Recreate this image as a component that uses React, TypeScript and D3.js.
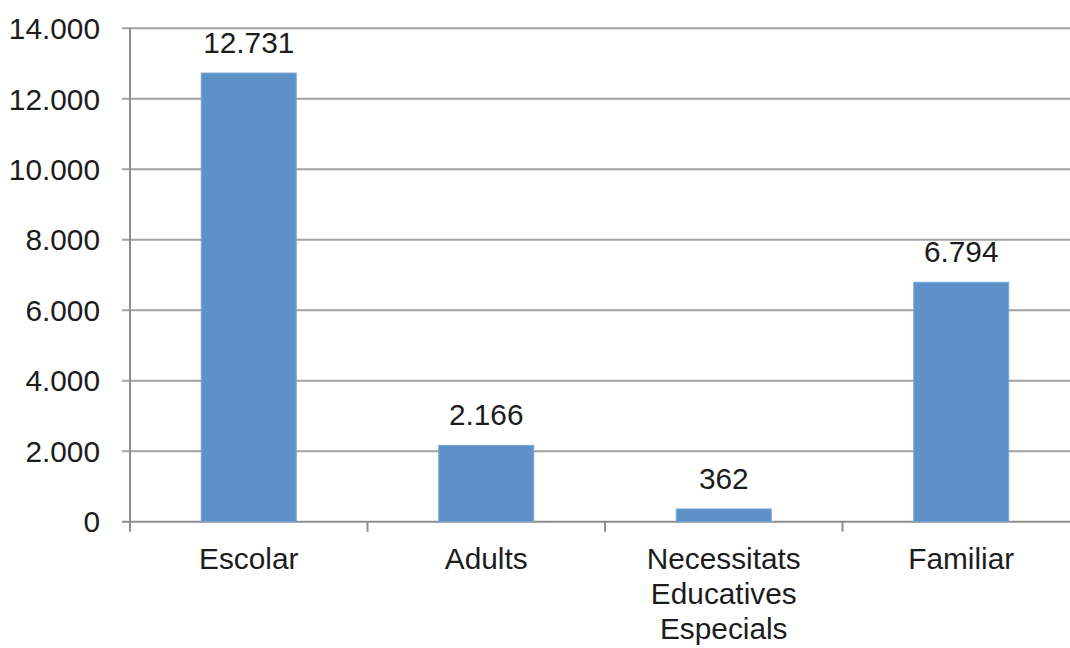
import React from "react";
import * as d3 from "d3";

const categories: string[][] = [
  ["Escolar"],
  ["Adults"],
  ["Necessitats", "Educatives", "Especials"],
  ["Familiar"],
];
const values: number[] = [12731, 2166, 362, 6794];
const valueLabels: string[] = ["12.731", "2.166", "362", "6.794"];
const yTicks: number[] = [0, 2000, 4000, 6000, 8000, 10000, 12000, 14000];
const yTickLabels: string[] = ["0", "2.000", "4.000", "6.000", "8.000", "10.000", "12.000", "14.000"];

const W = 1070;
const H = 648;
const left = 130;
const right = 1080;
const top = 28.3;
const bottom = 521.7;
const font = "'Liberation Sans', Arial, sans-serif";
const fs = 29.8;

export default function App() {
  const x = d3
    .scaleBand<number>()
    .domain(d3.range(values.length))
    .range([left, right])
    .paddingInner(0.6)
    .paddingOuter(0.3);
  const y = d3.scaleLinear().domain([0, 14000]).range([bottom, top]);
  const step = x.step();
  const boundaries = d3.range(values.length + 1).map((i) => left + i * step);

  return (
    <svg
      width={W}
      height={H}
      style={{ position: "absolute", left: 0, top: 0, background: "#fff" }}
      fontFamily={font}
    >
      {yTicks.map((t, i) => (
        <g key={t}>
          <line
            x1={left - 8}
            x2={W}
            y1={y(t)}
            y2={y(t)}
            stroke={t === 0 ? "#8e8e8e" : "#a2a2a2"}
            strokeWidth={2}
          />
          <text
            x={100}
            y={y(t)}
            dy="0.36em"
            textAnchor="end"
            fontSize={fs}
            fill="#1c1c1c"
          >
            {yTickLabels[i]}
          </text>
        </g>
      ))}
      <line x1={left} x2={left} y1={top} y2={bottom + 10} stroke="#8e8e8e" strokeWidth={2} />
      {boundaries.slice(1).map((b, i) => (
        <line key={i} x1={b} x2={b} y1={bottom} y2={bottom + 10} stroke="#8e8e8e" strokeWidth={2} />
      ))}
      {values.map((v, i) => (
        <g key={i}>
          <rect
            x={x(i)}
            y={y(v)}
            width={x.bandwidth()}
            height={bottom - y(v)}
            fill="#5d91c8"
            stroke="#7aa6d6"
            strokeWidth={1}
          />
          <text
            x={x(i)! + x.bandwidth() / 2}
            y={y(v) - 20}
            textAnchor="middle"
            fontSize={fs}
            fill="#1c1c1c"
          >
            {valueLabels[i]}
          </text>
          {categories[i].map((line, j) => (
            <text
              key={j}
              x={x(i)! + x.bandwidth() / 2}
              y={569 + j * 35}
              textAnchor="middle"
              fontSize={fs}
              fill="#1c1c1c"
            >
              {line}
            </text>
          ))}
        </g>
      ))}
    </svg>
  );
}
